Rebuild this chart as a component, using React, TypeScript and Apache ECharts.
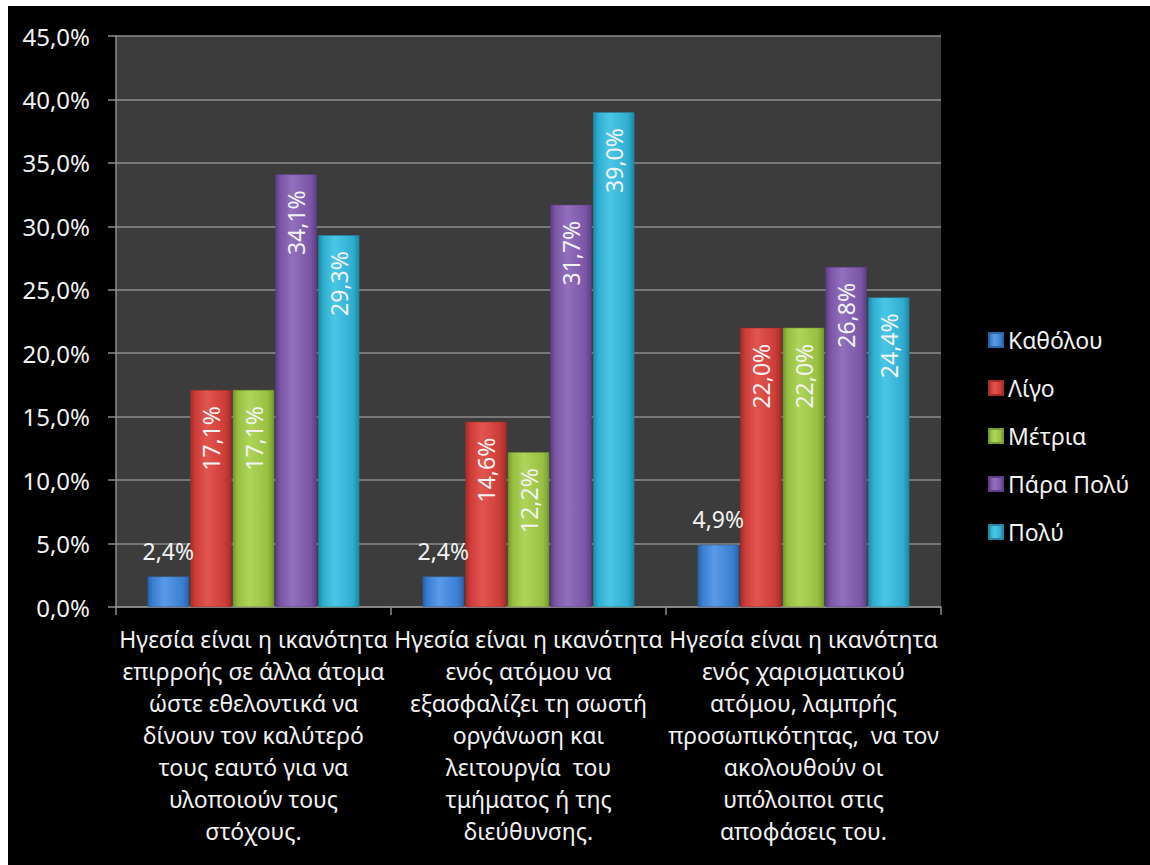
import React, { useEffect, useRef } from "react";
import * as echarts from "echarts";

const categories: string[] = [
  "Ηγεσία είναι η ικανότητα\nεπιρροής σε άλλα άτομα\nώστε εθελοντικά να\nδίνουν τον καλύτερό\nτους εαυτό για να\nυλοποιούν τους\nστόχους.",
  "Ηγεσία είναι η ικανότητα\nενός ατόμου να\nεξασφαλίζει τη σωστή\nοργάνωση και\nλειτουργία  του\nτμήματος ή της\nδιεύθυνσης.",
  "Ηγεσία είναι η ικανότητα\nενός χαρισματικού\nατόμου, λαμπρής\nπροσωπικότητας,  να τον\nακολουθούν οι\nυπόλοιποι στις\nαποφάσεις του.",
];

const seriesNames: string[] = ["Καθόλου", "Λίγο", "Μέτρια", "Πάρα Πολύ", "Πολύ"];
const katholou: number[] = [2.4, 2.4, 4.9];
const ligo: number[] = [17.1, 14.6, 22.0];
const metria: number[] = [17.1, 12.2, 22.0];
const paraPoly: number[] = [34.1, 31.7, 26.8];
const poly: number[] = [29.3, 39.0, 24.4];
const seriesValues: number[][] = [katholou, ligo, metria, paraPoly, poly];

const yTicks = { min: 0, max: 45, interval: 5 };

const baseColors = ["#3a7fd2", "#cc3c38", "#98bf42", "#7b56a7", "#2fadd0"];
const lightColors = ["#5b9ae6", "#e2554f", "#afd45a", "#9170bd", "#4cc6e6"];
const darkColors = ["#2a63a8", "#a22c29", "#779a2e", "#5e3f86", "#2086a3"];

const FONT = "Noto Sans";

const fmt = (v: number) => v.toFixed(1).replace(".", ",") + "%";

export default function App() {
  const ref = useRef<HTMLDivElement>(null);
  useEffect(() => {
    if (!ref.current) return;
    const chart = echarts.init(ref.current, undefined, { renderer: "svg" });
    const series = seriesNames.map((name, i) => ({
      name,
      type: "bar",
      data: seriesValues[i],
      barGap: "3%",
      barCategoryGap: "23%",
      itemStyle: {
        color: new echarts.graphic.LinearGradient(0, 0, 1, 0, [
          { offset: 0, color: darkColors[i] },
          { offset: 0.12, color: baseColors[i] },
          { offset: 0.4, color: lightColors[i] },
          { offset: 0.85, color: baseColors[i] },
          { offset: 1, color: darkColors[i] },
        ]),
        borderColor: darkColors[i],
        borderWidth: 0.5,
      },
      label:
        i === 0
          ? {
              show: true,
              position: "top",
              distance: 14,
              color: "#f2f2f2",
              fontFamily: FONT,
              fontSize: 23,
              formatter: (p: any) => fmt(p.value),
            }
          : {
              show: true,
              position: "insideTop",
              rotate: 90,
              align: "right",
              verticalAlign: "middle",
              distance: 16,
              color: "#f2f2f2",
              fontFamily: FONT,
              fontSize: 23,
              formatter: (p: any) => fmt(p.value),
            },
    }));
    chart.setOption({
      animation: false,
      backgroundColor: "#000000",
      textStyle: { fontFamily: FONT },
      legend: {
        orient: "vertical",
        left: 975,
        top: 317,
        itemWidth: 14,
        itemHeight: 14,
        itemGap: 24,
        icon: "rect",
        textStyle: { color: "#f2f2f2", fontSize: 23, fontFamily: FONT, lineHeight: 24 },
        data: seriesNames,
      },
      grid: {
        left: 108,
        top: 30,
        width: 825,
        height: 571,
        show: true,
        backgroundColor: "#3c3c3c",
        borderWidth: 0,
      },
      xAxis: {
        type: "category",
        data: categories,
        axisLine: { lineStyle: { color: "#8c8c8c", width: 1.5 } },
        axisTick: { show: true, length: 8, lineStyle: { color: "#8c8c8c", width: 1.5 } },
        axisLabel: {
          interval: 0,
          hideOverlap: false,
          color: "#f2f2f2",
          fontFamily: FONT,
          fontSize: 23,
          lineHeight: 32,
          margin: 16,
          align: "center",
        },
      },
      yAxis: {
        type: "value",
        min: yTicks.min,
        max: yTicks.max,
        interval: yTicks.interval,
        axisLine: { show: true, lineStyle: { color: "#8c8c8c", width: 1.5 } },
        axisTick: { show: true, length: 8, lineStyle: { color: "#8c8c8c", width: 1.5 } },
        splitLine: { show: true, lineStyle: { color: "#8c8c8c", width: 1.5 } },
        axisLabel: {
          color: "#f2f2f2",
          fontFamily: FONT,
          fontSize: 24,
          margin: 26,
          formatter: (v: number) => fmt(v),
        },
      },
      series,
    });
    return () => chart.dispose();
  }, []);
  return (
    <div
      ref={ref}
      style={{ position: "absolute", left: 8, top: 6, width: 1142, height: 859 }}
    />
  );
}
